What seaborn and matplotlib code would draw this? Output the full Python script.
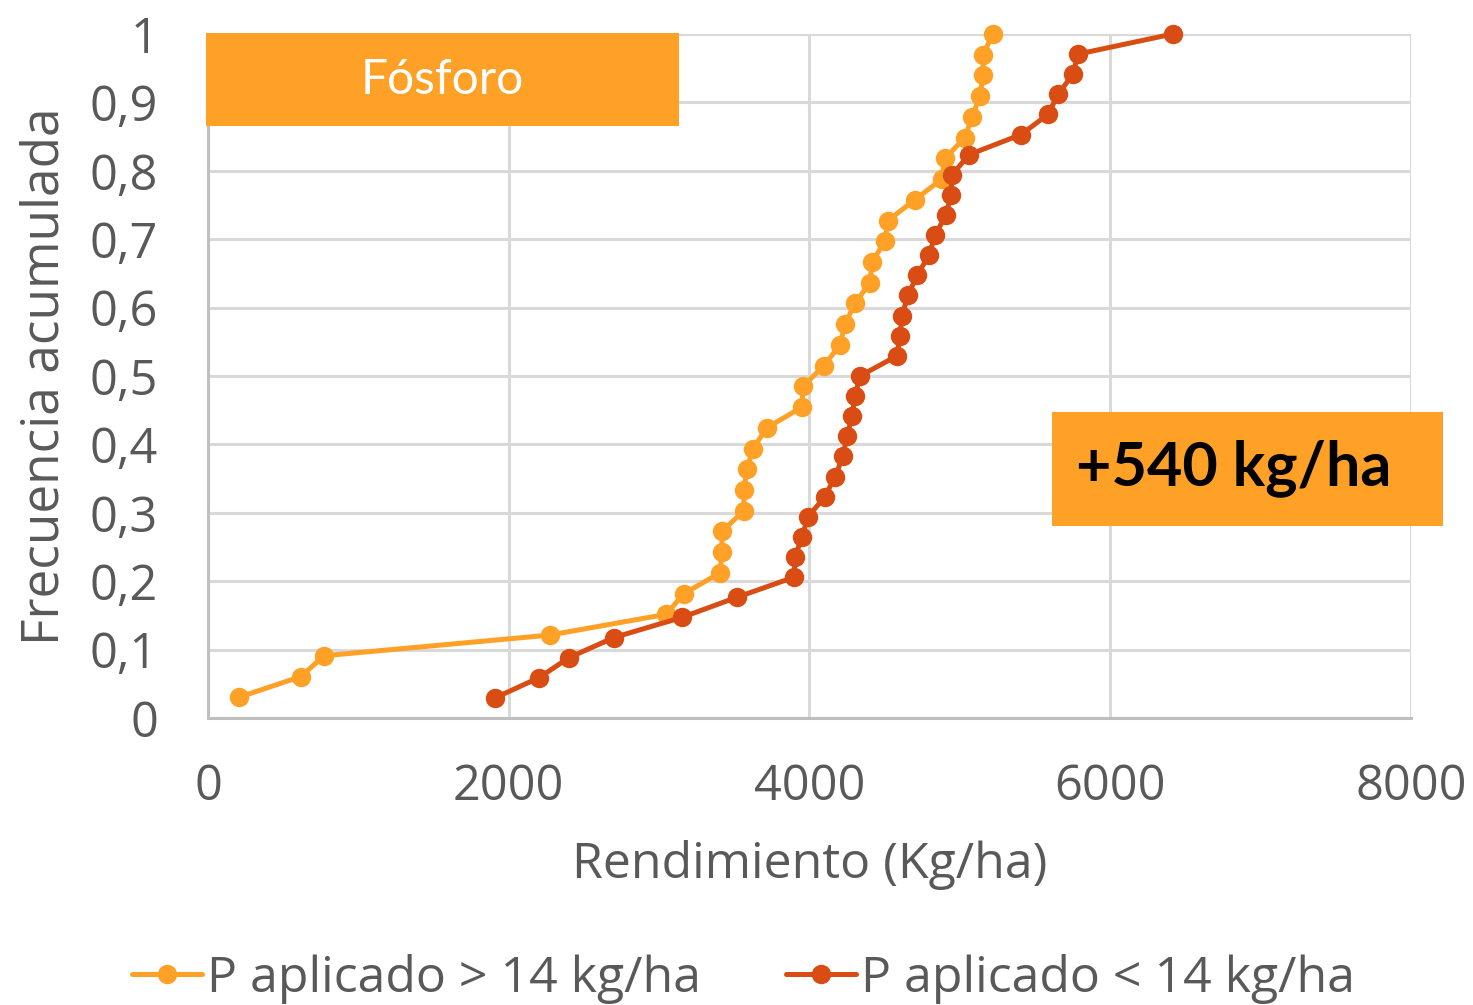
import pandas as pd
import seaborn as sns
import matplotlib.pyplot as plt
from matplotlib.patches import Rectangle

# rendimiento (kg/ha) de cada lote, ordenado, y su frecuencia acumulada
rend_mayor = [206, 618, 771, 2274, 3046, 3165, 3405, 3418, 3418, 3564, 3564,
              3584, 3624, 3717, 3950, 3957, 4096, 4203, 4236, 4302, 4402, 4416,
              4502, 4522, 4701, 4880, 4900, 5034, 5081, 5134, 5154, 5154, 5220]
rend_menor = [1909, 2201, 2401, 2700, 3152, 3518, 3898, 3904, 3950, 3990, 4103,
              4170, 4223, 4249, 4283, 4303, 4336, 4582, 4602, 4615, 4655, 4715,
              4795, 4835, 4908, 4941, 4948, 5061, 5407, 5586, 5653, 5752, 5786,
              6417]
frec_mayor = [(i + 1) / len(rend_mayor) for i in range(len(rend_mayor))]
frec_menor = [(i + 1) / len(rend_menor) for i in range(len(rend_menor))]

serie_mayor = "P aplicado > 14 kg/ha"
serie_menor = "P aplicado < 14 kg/ha"
x_ticks = [0, 2000, 4000, 6000, 8000]
y_ticks = [i / 10 for i in range(11)]
y_labels = ["0", "0,1", "0,2", "0,3", "0,4", "0,5", "0,6", "0,7", "0,8", "0,9", "1"]

naranja = "#FFA126"
rojo = "#D94D14"
gris = "#595959"

tabla = pd.concat([
    pd.DataFrame({"Rendimiento": rend_mayor, "Frecuencia": frec_mayor, "Serie": serie_mayor}),
    pd.DataFrame({"Rendimiento": rend_menor, "Frecuencia": frec_menor, "Serie": serie_menor}),
], ignore_index=True)

sns.set_theme(style="white")
plt.rcParams["font.family"] = ["Open Sans", "DejaVu Sans"]

fig = plt.figure(figsize=(14.73, 10.05), dpi=100)
ax = fig.add_axes([0.1412, 0.2856, 0.8167, 0.6806])

sns.lineplot(data=tabla, x="Rendimiento", y="Frecuencia", hue="Serie",
             palette={serie_mayor: naranja, serie_menor: rojo},
             estimator=None, sort=False, marker="o", markersize=14,
             markeredgewidth=0, linewidth=3.6, ax=ax, clip_on=False, zorder=3)

ax.set_xlim(0, 8000)
ax.set_ylim(0, 1)
ax.set_xticks(x_ticks)
ax.set_xticklabels([str(t) for t in x_ticks])
ax.set_yticks(y_ticks)
ax.set_yticklabels(y_labels)
ax.grid(True, color="#D9D9D9", linewidth=2.2)
ax.set_axisbelow(True)
for lado in ["top", "right"]:
    ax.spines[lado].set_visible(False)
for lado in ["left", "bottom"]:
    ax.spines[lado].set_color("#BFBFBF")
    ax.spines[lado].set_linewidth(2.2)
ax.tick_params(axis="both", length=0, labelsize=35, labelcolor=gris)
ax.tick_params(axis="y", pad=36)
ax.tick_params(axis="x", pad=32)
ax.set_xlabel("Rendimiento (Kg/ha)", fontsize=36, color=gris, labelpad=20)
ax.set_ylabel("Frecuencia acumulada", fontsize=37, color=gris, labelpad=14)

ax.get_legend().remove()
handles, labels = ax.get_legend_handles_labels()
fig.legend(handles, labels, loc="center", bbox_to_anchor=(0.505, 0.026), ncol=2,
           frameon=False, fontsize=36, labelcolor=gris, handlelength=1.4,
           handletextpad=0.1, columnspacing=1.7)

# cajas de texto
fig.patches.append(Rectangle((0.1399, 0.8746), 0.3211, 0.0925, transform=fig.transFigure,
                             facecolor=naranja, edgecolor="none", zorder=5))
fig.text(0.3001, 0.9204, "Fósforo", ha="center", va="center", color="white",
         fontsize=34.5, family="Lato", zorder=6)
fig.patches.append(Rectangle((0.7142, 0.4766), 0.2654, 0.1134, transform=fig.transFigure,
                             facecolor=naranja, edgecolor="none", zorder=5))
fig.text(0.8377, 0.5343, "+540 kg/ha", ha="center", va="center", color="black",
         fontsize=44, fontweight="bold", family="Lato", zorder=6)

fig.savefig("out.png", dpi=100)
